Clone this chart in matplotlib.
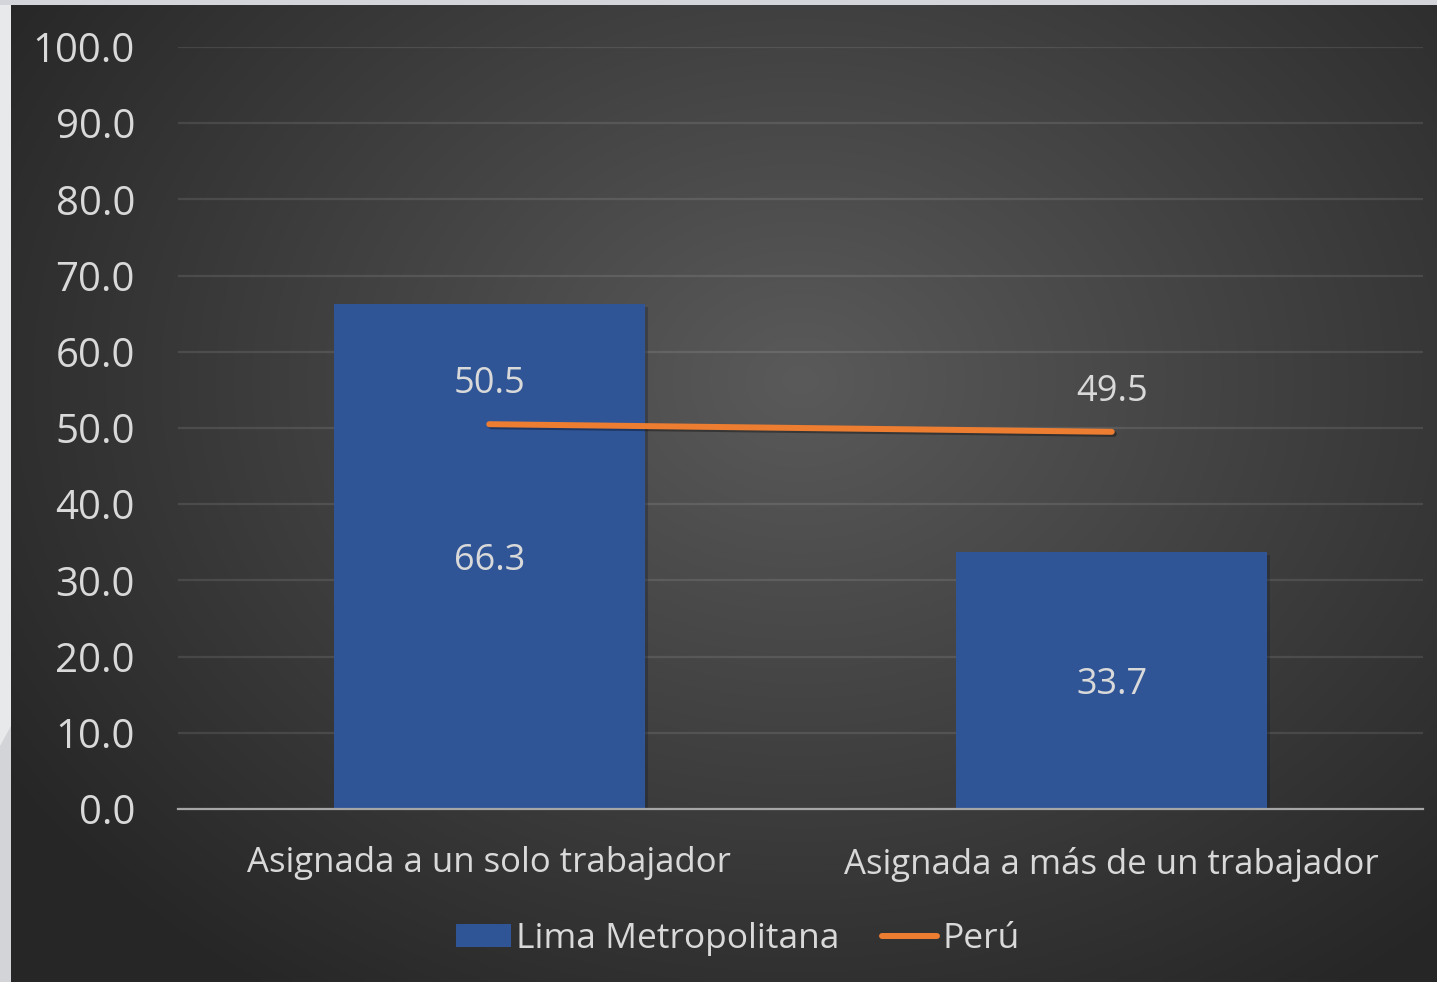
import numpy as np
import matplotlib
matplotlib.use('Agg')
from matplotlib import pyplot as plt
from matplotlib import patheffects as pe
from matplotlib.patches import Rectangle, Patch, Polygon
from matplotlib.lines import Line2D

categorias = ['Asignada a un solo trabajador', 'Asignada a más de un trabajador']
lima = [66.3, 33.7]
peru = [50.5, 49.5]
y_ticks = [0, 10, 20, 30, 40, 50, 60, 70, 80, 90, 100]

plt.rcParams['font.family'] = ['Open Sans', 'DejaVu Sans']
text_col = '#d9d9d9'
bar_col = '#2f5597'
line_col = '#ed7d31'

W, H = 1437, 982
fig = plt.figure(figsize=(W / 100, H / 100), dpi=100)

# background: dark radial gradient with a light frame on the left/top
bg = fig.add_axes([0, 0, 1, 1])
bg.set_axis_off()
xx, yy = np.meshgrid(np.arange(W), np.arange(H))
r = np.sqrt(((xx - 800) / 950.0) ** 2 + ((yy - 380) / 750.0) ** 2)
r = np.clip(r, 0, 1)
inner, outer = 0x5a / 255.0, 0x26 / 255.0
val = inner + (outer - inner) * r
img = np.dstack([val, val, val])
bg.imshow(img, extent=[0, W, H, 0], aspect='auto', interpolation='bilinear')
bg.add_patch(Rectangle((0, 0), 11, H, color='#e8e9eb', lw=0))
bg.add_patch(Polygon([(0, 746), (11, 726), (11, H), (0, H)], closed=True, color='#d3d4d8', lw=0))
bg.add_patch(Rectangle((0, 0), W, 5, color='#d4d5da', lw=0))
bg.set_xlim(0, W)
bg.set_ylim(H, 0)

ax = fig.add_axes([178 / W, 173 / H, 1245 / W, 762 / H])
ax.patch.set_alpha(0)
x = np.arange(len(categorias))

bars = ax.bar(x, lima, width=0.5, color=bar_col, zorder=2)
for b in bars:
    b.set_path_effects([pe.SimplePatchShadow(offset=(2, -2), alpha=0.3), pe.Normal()])
ax.plot(x, peru, color=line_col, lw=4.3, solid_capstyle='round', zorder=3,
        path_effects=[pe.SimpleLineShadow(offset=(1.5, -1.5), alpha=0.35), pe.Normal()])

# bar values in the middle of each bar, line values above the points
for i, v in enumerate(lima):
    ax.annotate(f'{v:.1f}', (x[i], v / 2), xytext=(0, -3), textcoords='offset points',
                ha='center', va='center', fontsize=26, color=text_col, zorder=4)
for i, v in enumerate(peru):
    ax.annotate(f'{v:.1f}', (x[i], v), xytext=(0, 29), textcoords='offset points',
                ha='center', va='center', fontsize=26, color=text_col, zorder=4)

ax.set_xlim(-0.5, 1.5)
ax.set_ylim(0, 100)
ax.set_yticks(y_ticks)
ax.set_yticklabels([f'{t:.1f}' for t in y_ticks])
ax.set_xticks(x)
ax.set_xticklabels(categorias)
ax.tick_params(axis='y', length=0, pad=31, labelsize=29, labelcolor=text_col)
ax.tick_params(axis='x', length=0, pad=27, labelsize=25, labelcolor=text_col)
ax.grid(axis='y', color='white', alpha=0.1, lw=1.6, zorder=0)
for s in ['top', 'right', 'left']:
    ax.spines[s].set_visible(False)
ax.spines['bottom'].set_color('#a6a6a6')
ax.spines['bottom'].set_linewidth(1.6)
ax.spines['bottom'].set_zorder(3)

handles = [Patch(facecolor=bar_col, label='Lima Metropolitana'),
           Line2D([], [], color=line_col, lw=4.3, solid_capstyle='round', label='Perú')]
fig.legend(handles=handles, loc='center', bbox_to_anchor=(738 / W, 1 - 939 / H), ncol=2,
           frameon=False, fontsize=25.5, labelcolor=text_col, handlelength=1.55,
           handleheight=0.6, handletextpad=0.15, columnspacing=1.2)

fig.savefig('out.png', dpi=100)
